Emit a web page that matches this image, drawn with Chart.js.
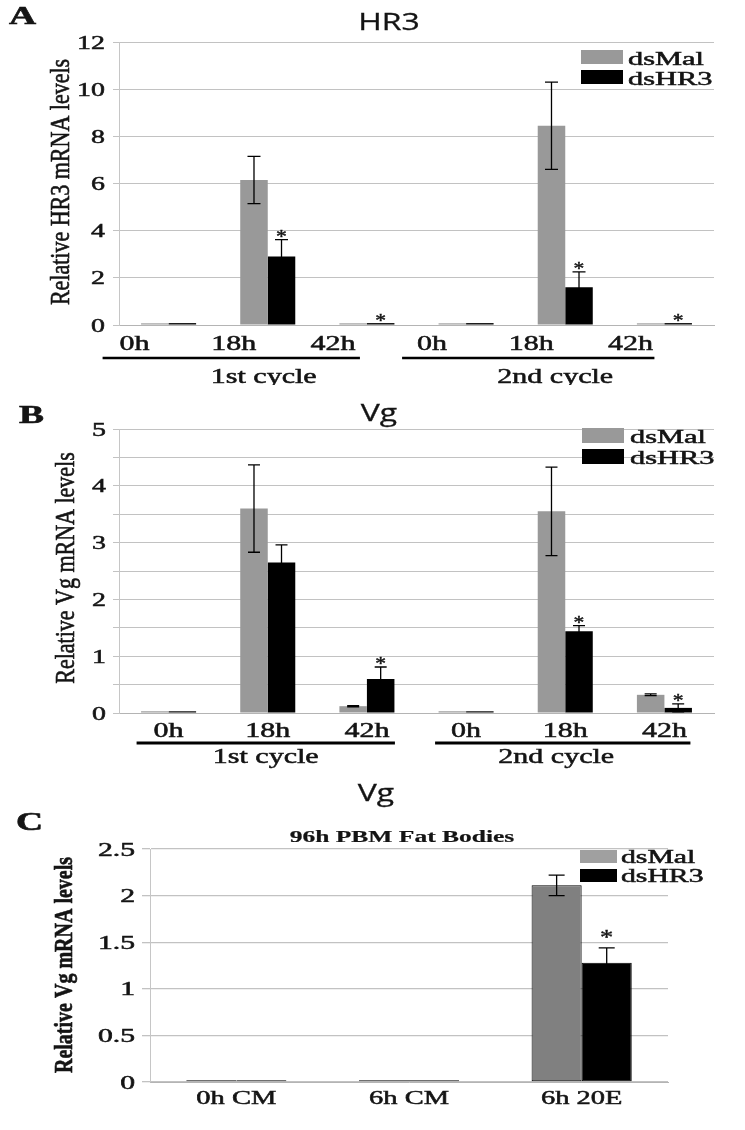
<!DOCTYPE html>
<html>
<head>
<meta charset="utf-8">
<script src="https://cdn.jsdelivr.net/npm/chart.js@4.4.1/dist/chart.umd.min.js"></script>
<style>
  html, body { margin: 0; padding: 0; background: #fff; }
  body { width: 745px; height: 1130px; position: relative; overflow: hidden; }
  canvas { position: absolute; left: 0; }
</style>
</head>
<body>
<canvas id="chartA" width="745" height="385" style="top:0px"></canvas>
<canvas id="chartB" width="745" height="385" style="top:385px"></canvas>
<canvas id="chartC" width="745" height="360" style="top:770px"></canvas>
<script>
// ---- data ----
const seriesNames = ["dsMal", "dsHR3"];
const timeLabels = ["0h", "18h", "42h", "0h", "18h", "42h"];
const cycleLabels = ["1st cycle", "2nd cycle"];

// A: HR3 transcript
const hr3Mal = [0.07, 6.15, 0.07, 0.07, 8.45, 0.07];
const hr3MalErr = [0, 1.0, 0, 0, 1.85, 0];
const hr3Kd = [0.08, 2.9, 0.08, 0.08, 1.6, 0.08];
const hr3KdErr = [0, 0.72, 0, 0, 0.65, 0];
const hr3Stars = [false, true, true, false, true, true];
const hr3Ticks = [0, 2, 4, 6, 8, 10, 12];

// B: Vg transcript
const vgMal = [0.03, 3.6, 0.12, 0.03, 3.55, 0.32];
const vgMalErr = [0, 0.77, 0.01, 0, 0.78, 0.015];
const vgKd = [0.03, 2.65, 0.6, 0.03, 1.44, 0.09];
const vgKdErr = [0, 0.31, 0.21, 0, 0.1, 0.07];
const vgStars = [false, false, true, false, true, true];
const vgTicks = [0, 1, 2, 3, 4, 5];

// C: fat body culture
const fatLabels = ["0h CM", "6h CM", "6h 20E"];
const fatMal = [0.02, 0.02, 2.11];
const fatMalErr = [0, 0, 0.11];
const fatKd = [0.02, 0.02, 1.28];
const fatKdErr = [0, 0, 0.16];
const fatStars = [false, false, true];
const fatTicks = [0, 0.5, 1, 1.5, 2, 2.5];

const SERIF = '"Liberation Serif", "DejaVu Serif", serif';
const SANS = '"Open Sans", "DejaVu Sans", sans-serif';
const INK = "#141414";

// draws text stretched horizontally (the figure is wider than it is tall)
function putText(ctx, text, x, y, font, sx, align, centered, heavy) {
  ctx.save();
  ctx.font = font;
  ctx.fillStyle = INK;
  ctx.strokeStyle = INK;
  ctx.textAlign = align || "center";
  ctx.textBaseline = "alphabetic";
  let by = y;
  if (centered) {
    const m = ctx.measureText(text);
    by = y + (m.actualBoundingBoxAscent - m.actualBoundingBoxDescent) / 2;
  }
  ctx.translate(x, by);
  ctx.scale(sx, 1);
  ctx.fillText(text, 0, 0);
  if (heavy) {
    ctx.lineWidth = heavy;
    ctx.strokeText(text, 0, 0);
  }
  ctx.restore();
}

function putVText(ctx, text, x, y, font, sx, heavy) {
  ctx.save();
  ctx.font = font;
  ctx.fillStyle = INK;
  ctx.strokeStyle = INK;
  ctx.textAlign = "center";
  ctx.textBaseline = "middle";
  ctx.translate(x, y);
  ctx.rotate(-Math.PI / 2);
  ctx.scale(1, sx);
  ctx.fillText(text, 0, 0);
  if (heavy) {
    ctx.lineWidth = heavy;
    ctx.strokeText(text, 0, 0);
  }
  ctx.restore();
}

function decorPlugin(d) {
  return {
    id: "decor",
    afterDatasetsDraw(chart) {
      const ctx = chart.ctx;
      const ys = chart.scales.y;

      // error bars
      d.errors.forEach((errs, di) => {
        const meta = chart.getDatasetMeta(di);
        const vals = chart.data.datasets[di].data;
        meta.data.forEach((bar, i) => {
          const e = errs[i];
          if (!e) return;
          const top = ys.getPixelForValue(vals[i] + e);
          const bot = ys.getPixelForValue(Math.max(vals[i] - e, 0));
          ctx.save();
          ctx.strokeStyle = "#000";
          ctx.lineWidth = 1.3;
          ctx.beginPath();
          ctx.moveTo(bar.x, top); ctx.lineTo(bar.x, bot);
          ctx.moveTo(bar.x - d.cap / 2, top); ctx.lineTo(bar.x + d.cap / 2, top);
          if (vals[i] - e > 0) {
            ctx.moveTo(bar.x - d.cap / 2, bot); ctx.lineTo(bar.x + d.cap / 2, bot);
          }
          ctx.stroke();
          ctx.restore();
        });
      });

      // significance stars on dsHR3 bars
      const kdMeta = chart.getDatasetMeta(1);
      const kdVals = chart.data.datasets[1].data;
      d.stars.forEach((s, i) => {
        if (!s) return;
        const top = ys.getPixelForValue(kdVals[i] + d.errors[1][i]);
        putText(ctx, "*", kdMeta.data[i].x, top - d.starGap, d.starFont, 1.2, "center", true, 0.4);
      });
    },
    afterDraw(chart) {
      const ctx = chart.ctx;
      const xs = chart.scales.x, ys = chart.scales.y;

      // y tick labels
      d.yTicks.forEach(v => {
        putText(ctx, String(v), d.yTickRight, ys.getPixelForValue(v), d.tickFont, d.tickSx, "right", true, 0.5);
      });
      // x tick labels
      chart.data.labels.forEach((lab, i) => {
        putText(ctx, lab, xs.getPixelForValue(i) + d.xOffset, d.xTickY, d.xFont, d.xSx, "center", false, 0.5);
      });
      // cycle underlines and names
      (d.groups || []).forEach(g => {
        const x1 = xs.getPixelForValue(g.from) + g.left;
        const x2 = xs.getPixelForValue(g.to) + g.right;
        ctx.save();
        ctx.fillStyle = "#000";
        ctx.fillRect(x1, d.lineY - d.lineW / 2, x2 - x1, d.lineW);
        ctx.restore();
        putText(ctx, g.label, xs.getPixelForValue(g.mid) + g.midOff, d.groupY, d.xFont, d.xSx, "center", false, 0.5);
      });

      // panel letter, titles, axis title
      putText(ctx, d.letter, d.letterX, d.letterY, "bold 25px " + SERIF, 1.5, "left", false, 0.6);
      putText(ctx, d.title, d.titleX, d.titleY, "24px " + SANS, 1.33, "center", false, 0.3);
      if (d.subtitle) {
        putText(ctx, d.subtitle, d.subX, d.subY, "bold 17px " + SERIF, 1.5, "center", false, 0.2);
      }
      putVText(ctx, d.yTitle, d.yTitleX, d.yTitleY, d.yTitleFont, 1.25, 0.5);

      // legend
      const lg = d.legend;
      chart.data.datasets.forEach((ds, i) => {
        ctx.save();
        ctx.fillStyle = lg.colors[i];
        ctx.fillRect(lg.x, lg.boxY[i], lg.w, lg.h);
        ctx.restore();
        putText(ctx, ds.label, lg.textX, lg.textY[i], lg.font, lg.sx, "left", false, 0.5);
      });
    }
  };
}

function makeChart(id, labels, mal, kd, colors, cfg, decor) {
  const canvas = document.getElementById(id);
  return new Chart(canvas.getContext("2d"), {
    type: "bar",
    data: {
      labels: labels,
      datasets: [
        { label: seriesNames[0], data: mal, backgroundColor: colors[0],
          borderColor: "#000", borderWidth: cfg.border, borderSkipped: false },
        { label: seriesNames[1], data: kd, backgroundColor: colors[1],
          borderColor: "#000", borderWidth: cfg.border, borderSkipped: false }
      ]
    },
    options: {
      responsive: false,
      animation: false,
      devicePixelRatio: 1,
      layout: { padding: { left: 0, right: cfg.right, top: cfg.top, bottom: 0 } },
      datasets: { bar: { barPercentage: 1.0, categoryPercentage: cfg.catPct } },
      plugins: { legend: { display: false }, title: { display: false }, tooltip: { enabled: false } },
      scales: {
        x: {
          grid: { display: false },
          border: { display: true, color: "#b4b4b4", width: 1 },
          ticks: { display: false },
          afterFit: s => { s.height = cfg.xHeight; }
        },
        y: {
          min: 0,
          max: cfg.max,
          ticks: { display: false, stepSize: cfg.step },
          grid: { color: "#c2c2c2", lineWidth: cfg.gridW, tickLength: cfg.tickLen },
          border: { display: true, color: "#c6c6c6", width: 1 },
          afterFit: s => { s.width = cfg.left; }
        }
      }
    },
    plugins: [decorPlugin(decor)]
  });
}

// ---- panel A ----
makeChart("chartA", timeLabels, hr3Mal, hr3Kd, ["#999999", "#000000"],
  { left: 119, right: 31, top: 42, xHeight: 60, max: 12, step: 2, catPct: 0.555, border: 0, gridW: 1, tickLen: 6 },
  {
    letter: "A", letterX: 9, letterY: 24,
    title: "HR3", titleX: 389, titleY: 30,
    yTitle: "Relative HR3 mRNA levels", yTitleX: 62, yTitleY: 182, yTitleFont: "22px " + SERIF,
    yTicks: hr3Ticks, yTickRight: 105, tickFont: "18px " + SERIF, tickSx: 1.55,
    xOffset: -34, xTickY: 350, xFont: "20px " + SERIF, xSx: 1.5,
    groups: [
      { label: cycleLabels[0], from: 0, to: 2, left: -66, right: -7, mid: 1, midOff: -4 },
      { label: cycleLabels[1], from: 3, to: 5, left: -64, right: -10, mid: 4, midOff: -10 }
    ],
    lineY: 358, lineW: 2.5, groupY: 383,
    legend: { x: 581, w: 42, h: 14, boxY: [50, 70], textX: 628, textY: [65, 85],
              colors: ["#999999", "#000000"], font: "19px " + SERIF, sx: 1.6 },
    errors: [hr3MalErr, hr3KdErr], stars: hr3Stars,
    cap: 13, starGap: 6, starFont: "18px " + SERIF
  });

// ---- panel B ----
makeChart("chartB", timeLabels, vgMal, vgKd, ["#999999", "#000000"],
  { left: 119, right: 31, top: 44, xHeight: 57, max: 5, step: 0.5, catPct: 0.555, border: 0, gridW: 1, tickLen: 6 },
  {
    letter: "B", letterX: 19, letterY: 38,
    title: "Vg", titleX: 379, titleY: 36,
    yTitle: "Relative Vg mRNA levels", yTitleX: 67, yTitleY: 183, yTitleFont: "22px " + SERIF,
    yTicks: vgTicks, yTickRight: 106, tickFont: "18px " + SERIF, tickSx: 1.55,
    xOffset: 0, xTickY: 352, xFont: "20px " + SERIF, xSx: 1.5,
    groups: [
      { label: cycleLabels[0], from: 0, to: 2, left: -32, right: 28, mid: 1, midOff: -2 },
      { label: cycleLabels[1], from: 3, to: 5, left: -31, right: 26, mid: 4, midOff: -9 }
    ],
    lineY: 358, lineW: 3, groupY: 378,
    legend: { x: 582, w: 42, h: 15, boxY: [43, 64], textX: 630, textY: [58, 79],
              colors: ["#999999", "#000000"], font: "19px " + SERIF, sx: 1.6 },
    errors: [vgMalErr, vgKdErr], stars: vgStars,
    cap: 12, starGap: 6, starFont: "18px " + SERIF
  });

// ---- panel C ----
makeChart("chartC", fatLabels, fatMal, fatKd, ["#808080", "#000000"],
  { left: 150, right: 77, top: 79, xHeight: 48, max: 2.5, step: 0.5, catPct: 0.58, border: 1, gridW: 1.3, tickLen: 8 },
  {
    letter: "C", letterX: 16, letterY: 60,
    title: "Vg", titleX: 376, titleY: 31,
    subtitle: "96h PBM Fat Bodies", subX: 402, subY: 72,
    yTitle: "Relative Vg mRNA levels", yTitleX: 66, yTitleY: 195, yTitleFont: "bold 20px " + SERIF,
    yTicks: fatTicks, yTickRight: 135, tickFont: "18px " + SERIF, tickSx: 1.65,
    xOffset: 0, xTickY: 334, xFont: "19px " + SERIF, xSx: 1.5,
    groups: [],
    legend: { x: 580, w: 37, h: 13, boxY: [80, 99], textX: 621, textY: [93, 112],
              colors: ["#a0a0a0", "#000000"], font: "18px " + SERIF, sx: 1.65 },
    errors: [fatMalErr, fatKdErr], stars: fatStars,
    cap: 16, starGap: 14, starFont: "22px " + SERIF
  });
</script>
</body>
</html>
